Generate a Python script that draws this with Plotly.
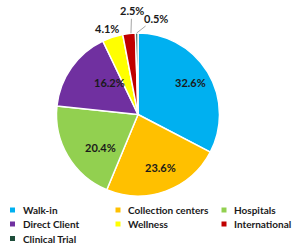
import math
import plotly.graph_objects as go

labels = ["Walk-in", "Collection centers", "Hospitals", "Direct Client", "Wellness", "International", "Clinical Trial"]
values = [32.6, 23.6, 20.4, 16.2, 4.1, 2.5, 0.5]
colors = ["#00B0F0", "#FFC000", "#92D050", "#7030A0", "#FFFF00", "#C00000", "#1E4D3A"]

W, H = 307, 246
CX, CY, R = 138, 114.5, 81.5  # pie centre / radius in pixels

FONT = "Lato"
TXT = "#1a1a1a"

fig = go.Figure(go.Pie(
    labels=labels,
    values=values,
    sort=False,
    direction="clockwise",
    rotation=0,
    marker=dict(colors=colors, line=dict(color="white", width=1.5)),
    textinfo="none",
    domain=dict(x=[(CX - R) / W, (CX + R) / W], y=[(H - CY - R) / H, (H - CY + R) / H]),
    hoverinfo="none",
    showlegend=False,
))

# data labels: inside ones at a radius fraction, outside ones with leader lines
total = sum(values)
inside_r = {0: 0.76, 1: 0.80, 2: 0.79, 3: 0.69}
# (anchor fraction within slice, ax, ay, draw line)
outside = {4: (0.5, -5.4, -9, False), 5: (0.65, 0.7, -22.5, True), 6: (0.5, 19, -15, True)}
cum = 0.0
for i, v in enumerate(values):
    start = cum
    cum += v
    lab_font = dict(family=FONT, size=11, color=TXT, weight="bold")
    if i in inside_r:
        mid = (start + v / 2) / total * 2 * math.pi
        rr = R * inside_r[i]
        px = CX + rr * math.sin(mid)
        py = CY - rr * math.cos(mid)
        fig.add_annotation(x=px / W, y=1 - py / H, xref="paper", yref="paper",
                           text=f"{v:.1f}%", showarrow=False, font=lab_font)
    else:
        frac, ax, ay, line = outside[i]
        ang = (start + v * frac) / total * 2 * math.pi
        px = CX + R * math.sin(ang)
        py = CY - R * math.cos(ang)
        fig.add_annotation(
            x=px / W, y=1 - py / H, xref="paper", yref="paper",
            text=f"{v:.1f}%", showarrow=True, arrowhead=0, arrowwidth=1,
            arrowcolor="#a6a6a6" if line else "rgba(0,0,0,0)",
            ax=ax, ay=ay, standoff=0, font=lab_font,
        )

# legend built as a grid of text entries
col_x = [12.5, 118, 224]
row_y = [210, 224, 238.5]
for i, lab in enumerate(labels):
    c, r = i % 3, i // 3
    x0, y0 = col_x[c], row_y[r]
    fig.add_shape(type="rect", xref="paper", yref="paper",
                  x0=(x0 - 2.5) / W, x1=(x0 + 2.5) / W,
                  y0=1 - (y0 + 2.5) / H, y1=1 - (y0 - 2.5) / H,
                  fillcolor=colors[i], line=dict(width=0))
    fig.add_annotation(
        x=(x0 + 8) / W, y=1 - y0 / H, xref="paper", yref="paper",
        xanchor="left", yanchor="middle", showarrow=False,
        text=lab, font=dict(family=FONT, size=10, color=TXT, weight="bold"),
    )

fig.update_layout(
    width=W, height=H,
    margin=dict(l=0, r=0, t=0, b=0),
    paper_bgcolor="white",
    showlegend=False,
)

fig.write_html("out.html")
